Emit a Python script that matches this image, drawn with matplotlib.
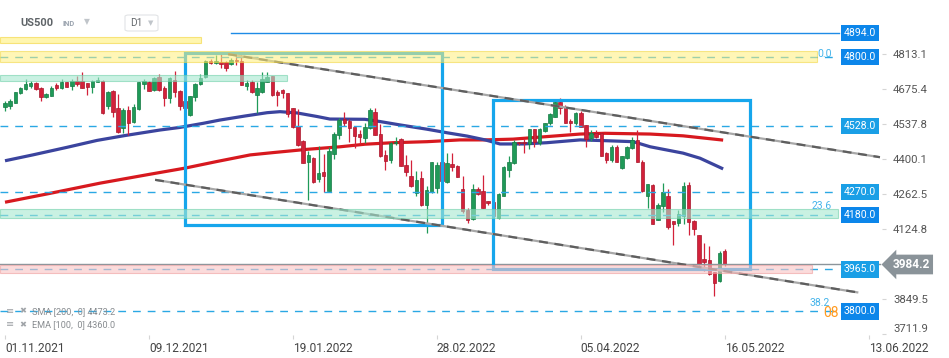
import matplotlib
matplotlib.use("Agg")
import matplotlib.pyplot as plt
import numpy as np
from matplotlib.patches import Rectangle, FancyBboxPatch, Polygon
from matplotlib.transforms import blended_transform_factory

plt.rcParams['font.family'] = ['Roboto', 'DejaVu Sans']

# ---------------- data ----------------
opens = [4605, 4608, 4620, 4657, 4674, 4687, 4698, 4677, 4644, 4648,
         4688, 4679, 4701, 4687, 4705, 4706, 4696, 4683, 4702, 4706,
         4608, 4666, 4598, 4520, 4592, 4546, 4595, 4692, 4701, 4670,
         4722, 4680, 4640, 4709, 4666, 4625, 4570, 4641, 4692, 4720,
         4784, 4777, 4781, 4781, 4774, 4790, 4784, 4686, 4702, 4652,
         4663, 4703, 4725, 4663, 4670, 4659, 4598, 4529, 4470, 4389,
         4403, 4322, 4347, 4275, 4419, 4494, 4555, 4550, 4526, 4498,
         4481, 4520, 4585, 4498, 4415, 4396, 4461, 4477, 4376, 4331,
         4266, 4324, 4220, 4268, 4285, 4389, 4307, 4380, 4372, 4281,
         4200, 4164, 4281, 4272, 4233, 4230, 4168, 4255, 4354, 4383,
         4467, 4467, 4458, 4516, 4461, 4510, 4539, 4565, 4624, 4605,
         4550, 4539, 4581, 4533, 4481, 4503, 4500, 4422, 4396, 4448,
         4363, 4403, 4442, 4474, 4389, 4252, 4298, 4161, 4216, 4255,
         4155, 4148, 4174, 4298, 4155, 4099, 4005, 4002, 3953, 3920,
         4037]
highs = [4627, 4633, 4663, 4683, 4712, 4705, 4701, 4683, 4659, 4685,
         4696, 4712, 4703, 4712, 4725, 4740, 4698, 4709, 4721, 4710,
         4667, 4670, 4653, 4600, 4607, 4615, 4702, 4714, 4704, 4720,
         4732, 4685, 4720, 4744, 4670, 4630, 4648, 4697, 4732, 4790,
         4794, 4806, 4815, 4786, 4795, 4819, 4819, 4709, 4709, 4700,
         4742, 4742, 4727, 4670, 4673, 4659, 4600, 4594, 4474, 4432,
         4405, 4451, 4420, 4448, 4507, 4559, 4585, 4555, 4526, 4513,
         4539, 4600, 4600, 4537, 4435, 4467, 4486, 4481, 4415, 4396,
         4350, 4350, 4294, 4389, 4389, 4400, 4422, 4422, 4376, 4331,
         4207, 4302, 4289, 4337, 4235, 4235, 4266, 4372, 4411, 4474,
         4467, 4477, 4516, 4516, 4520, 4542, 4579, 4630, 4637, 4611,
         4555, 4585, 4589, 4533, 4513, 4513, 4505, 4428, 4455, 4452,
         4411, 4451, 4485, 4513, 4396, 4301, 4301, 4226, 4305, 4281,
         4155, 4200, 4307, 4307, 4158, 4102, 4070, 4057, 3955, 4037,
         4046]
lows = [4589, 4595, 4618, 4654, 4670, 4679, 4670, 4628, 4640, 4646,
        4670, 4674, 4681, 4670, 4685, 4677, 4650, 4659, 4701, 4577,
        4597, 4563, 4503, 4502, 4494, 4540, 4592, 4676, 4665, 4666,
        4667, 4608, 4618, 4644, 4592, 4590, 4568, 4627, 4688, 4717,
        4772, 4772, 4756, 4745, 4770, 4770, 4689, 4670, 4657, 4580,
        4657, 4702, 4645, 4607, 4637, 4565, 4520, 4450, 4383, 4239,
        4305, 4307, 4268, 4272, 4400, 4477, 4529, 4467, 4442, 4461,
        4461, 4515, 4494, 4405, 4357, 4383, 4455, 4370, 4331, 4289,
        4255, 4216, 4109, 4266, 4266, 4300, 4305, 4350, 4327, 4187,
        4148, 4161, 4259, 4207, 4220, 4150, 4164, 4252, 4328, 4380,
        4455, 4422, 4438, 4448, 4455, 4507, 4533, 4565, 4576, 4539,
        4507, 4533, 4524, 4448, 4468, 4480, 4409, 4383, 4389, 4387,
        4360, 4400, 4438, 4387, 4268, 4207, 4142, 4158, 4190, 4122,
        4059, 4135, 4145, 4102, 4102, 3982, 3959, 3942, 3861, 3917,
        3980]
closes = [4618, 4627, 4661, 4680, 4693, 4698, 4675, 4644, 4654, 4680,
          4679, 4701, 4683, 4706, 4693, 4680, 4683, 4706, 4710, 4579,
          4663, 4585, 4507, 4592, 4540, 4605, 4701, 4706, 4667, 4716,
          4670, 4637, 4716, 4663, 4608, 4600, 4646, 4693, 4719, 4784,
          4777, 4785, 4772, 4755, 4787, 4784, 4689, 4699, 4663, 4680,
          4715, 4722, 4650, 4650, 4657, 4576, 4526, 4455, 4385, 4415,
          4307, 4344, 4334, 4431, 4498, 4552, 4542, 4522, 4490, 4485,
          4526, 4592, 4494, 4409, 4393, 4461, 4467, 4372, 4346, 4292,
          4318, 4220, 4279, 4389, 4376, 4311, 4383, 4367, 4327, 4194,
          4161, 4281, 4263, 4207, 4226, 4175, 4263, 4367, 4389, 4467,
          4461, 4461, 4516, 4464, 4516, 4539, 4576, 4624, 4598, 4542,
          4539, 4581, 4526, 4477, 4503, 4487, 4412, 4396, 4448, 4389,
          4409, 4446, 4474, 4387, 4272, 4301, 4145, 4220, 4268, 4133,
          4142, 4181, 4294, 4151, 4125, 3985, 3994, 3946, 3913, 4031,
          3984.2]

ema_bar = [0, 5.4, 12.1, 17.9, 23.3, 30.2, 34, 38.5, 41.8, 46.7, 51, 53.5,
           56.8, 60.7, 63.2, 70, 73, 76.8, 82.1, 86, 89.9, 93.4, 96.3, 100.8,
           105.4, 111.9, 116.7, 122.2, 125.5, 131.9, 135.2, 139.7]
ema_val = [4392, 4415, 4445, 4472, 4491, 4513, 4523, 4539, 4552, 4568, 4581,
           4585, 4580, 4566, 4556, 4555, 4546, 4533, 4516, 4502, 4489, 4474,
           4458, 4458, 4463, 4474, 4471, 4467, 4447, 4422, 4402, 4360]
sma_bar = [0, 8.8, 18.5, 28.2, 35, 41.2, 47.7, 52.1, 58.8, 65.2, 70, 75.5,
           82.1, 88.5, 93.4, 98.8, 105.4, 111.9, 116.7, 125.5, 131.9, 139.7]
sma_val = [4229, 4264, 4304, 4339, 4363, 4389, 4415, 4424, 4437, 4447, 4457,
           4463, 4467, 4474, 4474, 4477, 4487, 4497, 4500, 4497, 4490, 4473.2]

levels = [4894.0, 4800.0, 4528.0, 4270.0, 4180.0, 3965.0, 3800.0]
level_dark = [True, True, False, False, True, False, True]
last_price = 3984.2

ytick_vals = [4813.1, 4675.4, 4537.8, 4400.1, 4262.5, 4124.8, 3849.5, 3711.9]
date_bars = [0, 28, 56, 84, 112, 140, 168]
date_labels = ['01.11.2021', '09.12.2021', '19.01.2022', '28.02.2022',
               '05.04.2022', '16.05.2022', '13.06.2022']

# zones (price ranges)
zone_yellow_top = (4856, 4879)
zone_yellow = (4782, 4823)
zone_green_top = (4707, 4729)
zone_green = (4166, 4201)
zone_pink = (3950, 3982)

# boxes: (bar_start, bar_end, price_low, price_high)
box_left = (35.1, 85.1, 4141, 4816)
box_right = (95.0, 145.0, 3965, 4632)
# trend lines: bars, prices
trend_upper = ([43.4, 170.2], [4811, 4406])
trend_lower = ([29.2, 166.0], [4317, 3874])

# ---------------- figure ----------------
W, H = 949, 358
fig = plt.figure(figsize=(W / 100, H / 100), dpi=100)
AX_R = 882
ax = fig.add_axes([0, 23 / H, AX_R / W, 335 / H])
ax.set_xlim(-0.973, 170.6)
ax.set_ylim(3707, 5024)
for s in ax.spines.values():
    s.set_visible(False)

def fx(px):
    return px / AX_R

bt = blended_transform_factory(ax.transAxes, ax.transData)

# MAs
ax.plot(sma_bar, sma_val, color='#D7191F', lw=2.3, zorder=2, solid_capstyle='butt')
ax.plot(ema_bar, ema_val, color='#3B449E', lw=2.3, zorder=2, solid_capstyle='butt')

# candles
o = np.array(opens, float); h = np.array(highs, float)
l = np.array(lows, float); c = np.array(closes, float)
idx = np.arange(len(o))
up = c >= o
body_col = np.where(up, '#1F9A58', '#D3213A')
edge_col = np.where(up, '#157A44', '#A8182C')
ax.vlines(idx, l, h, colors=body_col, lw=0.9, zorder=3)
bb = np.minimum(o, c)
bh = np.maximum(np.abs(c - o), 2.5)
ax.bar(idx, bh, bottom=bb, width=0.68, color=body_col, edgecolor=edge_col,
       linewidth=0.5, zorder=3)

# dashed levels
for lv in levels[1:]:
    ax.axhline(lv, xmin=0, xmax=fx(839), color='#2AA8E4', lw=1.0,
               ls=(0, (5.6, 5.0)), zorder=4)
ax.axhline(levels[0], xmin=fx(231), xmax=fx(839), color='#1E8BE6', lw=1.0, zorder=4)
ax.axhline(last_price, xmin=0, xmax=fx(880), color='#8C959B', lw=1.0, zorder=4)

# boxes
for (x0, x1, y0, y1) in (box_left, box_right):
    ax.add_patch(Rectangle((x0, y0), x1 - x0, y1 - y0, fill=False,
                           ec='#16A6EC', lw=2.3, zorder=6))

# trend lines
for xs, ys in (trend_upper, trend_lower):
    ax.plot(xs, ys, color='#A8A8A8', lw=1.6, zorder=6, solid_capstyle='butt')
    ax.plot(xs, ys, color='#5E5E5E', lw=1.6, ls=(0, (4, 3)), zorder=6)

# zones (semi transparent, on top)
ax.axhspan(*zone_yellow_top, xmin=0, xmax=fx(200.7), fc='#FFF07A', alpha=0.6,
           ec='#F2D43A', lw=0.8, zorder=7)
ax.axhspan(*zone_yellow, xmin=0, xmax=fx(816.7), fc='#FFF07A', alpha=0.55,
           ec='#F2D43A', lw=0.8, zorder=7)
ax.axhspan(*zone_green_top, xmin=0, xmax=fx(287), fc='#A6E8CF', alpha=0.6,
           ec='#72D0AA', lw=0.8, zorder=7)
ax.axhspan(*zone_green, xmin=0, xmax=fx(837.7), fc='#A6E8CF', alpha=0.6,
           ec='#72D0AA', lw=0.8, zorder=7)
ax.axhspan(*zone_pink, xmin=0, xmax=fx(811.7), fc='#F9C4C4', alpha=0.6,
           ec='#EE9E9E', lw=0.8, zorder=7)

# fib labels
fibc = '#45B4EA'
ax.text(fx(832), 4810, '0.0', transform=bt, ha='right', va='center', fontsize=7.5, color=fibc, zorder=8)
ax.text(fx(832), 4213, '23.6', transform=bt, ha='right', va='center', fontsize=7.5, color=fibc, zorder=8)
ax.text(fx(830), 3832, '38.2', transform=bt, ha='right', va='center', fontsize=7.5, color=fibc, zorder=8)
ax.text(fx(839), 3794, '08', transform=bt, ha='right', va='center', fontsize=10, color='#FF9A1F', zorder=8)

# level labels
for lv, dark in zip(levels, level_dark):
    fc = '#0C86EA' if dark else '#1A9FE6'
    ax.text(fx(860), lv, f'{lv:.1f}', transform=bt, ha='center', va='center',
            fontsize=7.6, color='white', zorder=9,
            bbox=dict(boxstyle='square,pad=0.3', fc=fc, ec='none'))

# last price label
ax.text(fx(911), last_price, f'{last_price:.1f}', transform=bt, ha='center',
        va='center', fontsize=8.6, color='white', fontweight='bold', zorder=9,
        bbox=dict(boxstyle='larrow,pad=0.28', fc='#8A9399', ec='none'),
        clip_on=False)

# axes ticks
ax.yaxis.tick_right()
ax.set_yticks(ytick_vals)
ax.set_yticklabels([f'{v:.1f}' for v in ytick_vals])
ax.tick_params(axis='y', length=3, color='#D5D5D5', pad=5, labelsize=8.2,
               labelcolor='#555555')
ax.get_yticklabels()[-1].set_va('bottom')
ax.set_xticks(date_bars)
ax.set_xticklabels(date_labels)
ax.tick_params(axis='x', length=3, color='#D5D5D5', pad=2, labelsize=8.6,
               labelcolor='#444444')
for lbl in ax.get_xticklabels():
    lbl.set_ha('left')

# header
def fpx(x, y):
    return x / W, 1 - y / H

fig.text(*fpx(20, 23), 'US500', fontsize=8, fontweight='bold', color='#5F6468', va='center')
fig.text(*fpx(63, 24), 'IND', fontsize=5.3, fontweight='bold', color='#9AA3AE', va='center')
fig.text(*fpx(84, 22), '▼', fontsize=5.5, color='#C0C5CA', va='center', family=['DejaVu Sans'])
fig.patches.append(FancyBboxPatch(fpx(125, 31), 33 / W, 16 / H,
                                  boxstyle='round,pad=0,rounding_size=0.004',
                                  transform=fig.transFigure, fc='white', ec='#E2E4E6', lw=0.8))
fig.text(*fpx(130, 23.5), 'D1', fontsize=7.3, color='#666A6E', va='center')
fig.text(*fpx(148, 23), '▼', fontsize=5, color='#C0C5CA', va='center', family=['DejaVu Sans'])

# indicator legend
fig.text(*fpx(6, 311), '≡', fontsize=7, color='#A0A4A8', va='center', family=['DejaVu Sans'])
fig.text(*fpx(19, 311), '✖', fontsize=6, color='#A0A4A8', va='center', family=['DejaVu Sans'])
fig.text(*fpx(32, 312), 'SMA [200,  0] 4473.2', fontsize=6.6, color='#888C90', va='center')
fig.text(*fpx(6, 324.5), '≡', fontsize=7, color='#A0A4A8', va='center', family=['DejaVu Sans'])
fig.text(*fpx(19, 324.5), '✖', fontsize=6, color='#A0A4A8', va='center', family=['DejaVu Sans'])
fig.text(*fpx(32, 325), 'EMA [100,  0] 4360.0', fontsize=6.6, color='#888C90', va='center')

fig.savefig('out.png', dpi=100, facecolor='white')
